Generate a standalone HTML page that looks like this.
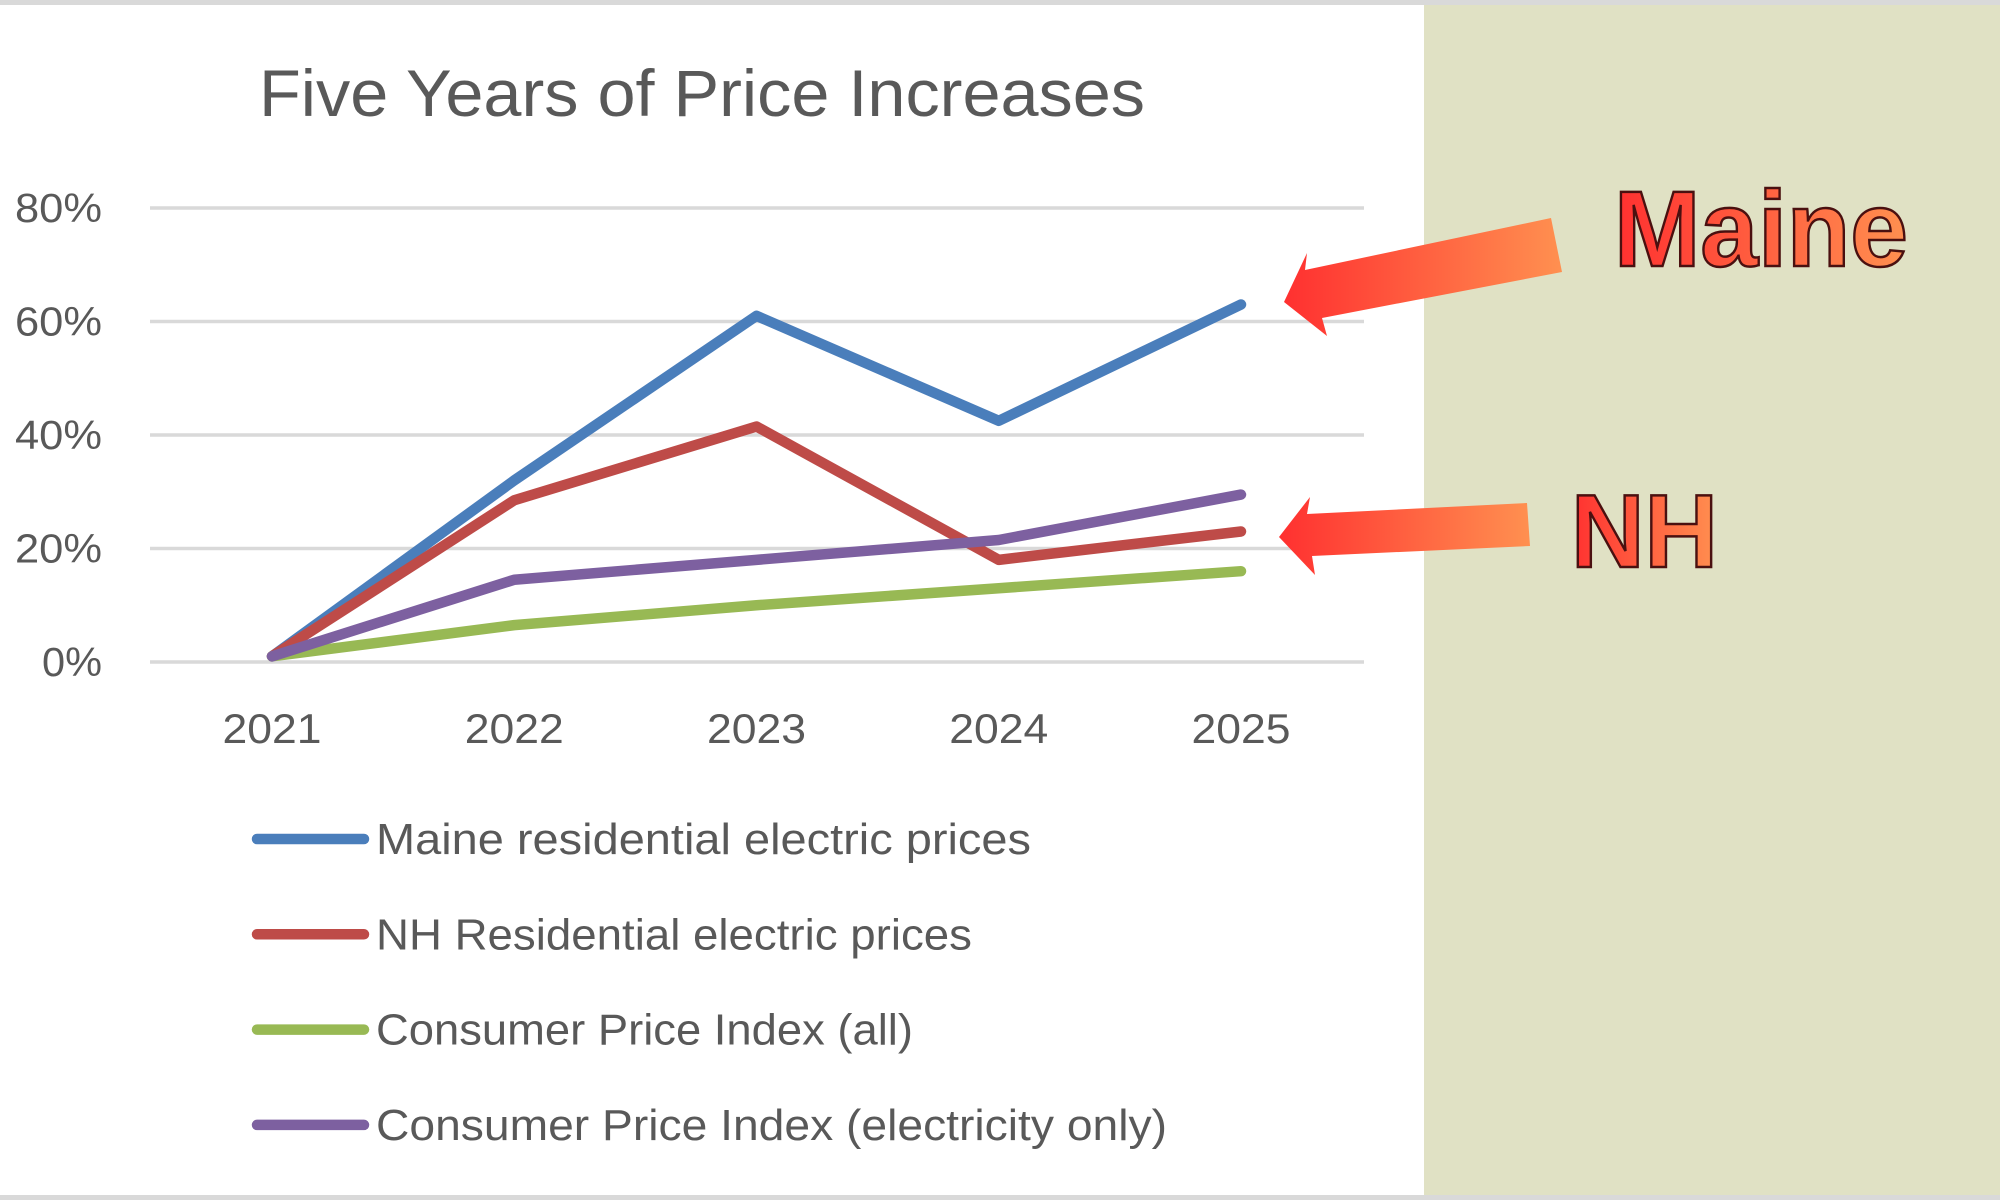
<!DOCTYPE html>
<html><head><meta charset="utf-8"><style>
html,body{margin:0;padding:0;width:2000px;height:1200px;overflow:hidden;background:#fff}
svg{display:block}
</style></head><body>
<svg id="chart" width="2000" height="1200" xmlns="http://www.w3.org/2000/svg" font-family="'Liberation Sans', sans-serif">
<defs>
<linearGradient id="ag" x1="0" x2="1" y1="0" y2="0"><stop offset="0" stop-color="#ff3030"/><stop offset="1" stop-color="#ff9050"/></linearGradient>
</defs>
<rect x="0" y="0" width="1424" height="1200" fill="#ffffff"/>
<rect x="1424" y="0" width="576" height="1200" fill="#e0e1c4"/>
<rect x="0" y="0" width="2000" height="5" fill="#d9d9d9"/>
<rect x="0" y="1195" width="2000" height="5" fill="#d9d9d9"/>
<text x="259" y="116" font-size="66" fill="#595959" textLength="886" lengthAdjust="spacingAndGlyphs">Five Years of Price Increases</text>
<g id="grid"></g>
<g id="ylabels"></g>
<g id="xlabels"></g>
<g id="lines"></g>
<g id="legend"></g>
<polygon points="1551,218 1562,272 1322,318 1327,336 1284,302 1307,253 1305,270" fill="url(#ag)"/>
<text x="1614" y="266" font-size="108" font-weight="bold" fill="url(#ag)" stroke="#4a1010" stroke-width="2.5" textLength="294" lengthAdjust="spacingAndGlyphs">Maine</text>
<polygon points="1527,503 1530,546 1312,556 1315,575 1279,537 1310,497 1307,514" fill="url(#ag)"/>
<text x="1571" y="567" font-size="104" font-weight="bold" fill="url(#ag)" stroke="#4a1010" stroke-width="2.5" textLength="147" lengthAdjust="spacingAndGlyphs">NH</text>
</svg>
<script>
const years = ["2021","2022","2023","2024","2025"];
const yTicks = [0,20,40,60,80];
const maine = [1,32,61,42.5,63];
const nh = [1,28.5,41.5,18,23];
const cpiAll = [1,6.5,10,13,16];
const cpiElec = [1,14.5,18,21.5,29.5];
const seriesNames = ["Maine residential electric prices","NH Residential electric prices","Consumer Price Index (all)","Consumer Price Index (electricity only)"];
const colors = ["#4a7ebb","#be4b48","#98b954","#7d60a0"];
const legendWidths = [655,596,537,791];
const NS="http://www.w3.org/2000/svg";
const x0=272, dx=242.25, yBase=662, yPer=(662-208)/80;
const xs=i=>x0+i*dx, ys=v=>yBase-v*yPer;
function mk(t,a,p){const e=document.createElementNS(NS,t);for(const k in a)e.setAttribute(k,a[k]);document.getElementById(p).appendChild(e);return e;}
yTicks.forEach(v=>{
  const l=mk('line',{x1:150,x2:1364,y1:ys(v),y2:ys(v),stroke:'#d9d9d9','stroke-width':3.5},'grid');
  
  
  const lbl=v+'%';
  const t=mk('text',{x:102,y:ys(v)+14,'text-anchor':'end','font-size':41,fill:'#595959',textLength:(lbl.length===3?87:60),lengthAdjust:'spacingAndGlyphs'},'ylabels');
  t.textContent=lbl;
  
  
});
years.forEach((y,i)=>{
  const t=mk('text',{x:xs(i),y:743,'text-anchor':'middle','font-size':42,fill:'#595959',textLength:99,lengthAdjust:'spacingAndGlyphs'},'xlabels');
  t.textContent=y;
  
  
});
[maine,nh,cpiAll,cpiElec].forEach((s,k)=>{
  const pts=s.map((v,i)=>xs(i)+','+ys(v)).join(' ');
  const p=mk('polyline',{points:pts,fill:'none',stroke:colors[k],'stroke-width':10.5,'stroke-linecap':'round','stroke-linejoin':'round'},'lines');
  
  
});
seriesNames.forEach((n,k)=>{
  const y=839+k*95.3;
  const l=mk('line',{x1:257,x2:364,y1:y,y2:y,stroke:colors[k],'stroke-width':10.5,'stroke-linecap':'round'},'legend');
  
  
  const t=mk('text',{x:376,y:y+15,'font-size':44,fill:'#595959',textLength:legendWidths[k],lengthAdjust:'spacingAndGlyphs'},'legend');
  t.textContent=n;
  
  
});
</script>
</body></html>
